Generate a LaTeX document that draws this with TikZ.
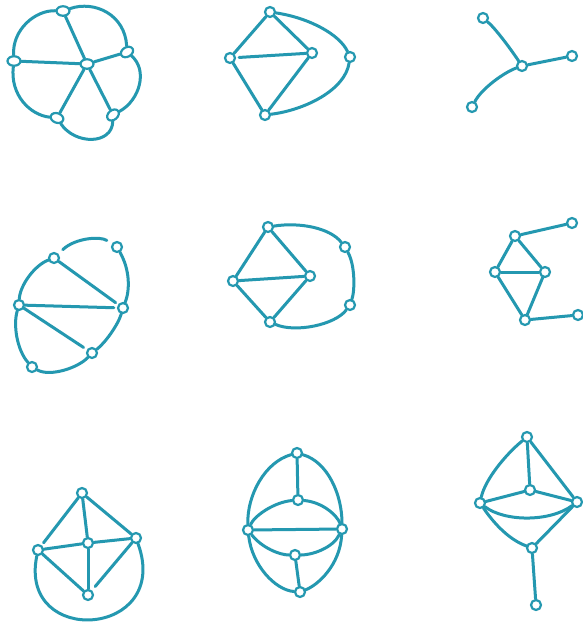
\documentclass[tikz,border=0pt]{standalone}
\usetikzlibrary{shapes.geometric}
\definecolor{ink}{RGB}{36,152,176}
\begin{document}
\begin{tikzpicture}[x=1pt,y=-1pt,
  vtx/.style={circle,draw=ink,fill=white,line width=2.2pt,inner sep=0pt,minimum size=10pt},
  ovtx/.style={ellipse,draw=ink,fill=white,line width=2.2pt,inner sep=0pt,minimum width=13pt,minimum height=9.5pt},
  edge/.style={draw=ink,line width=3pt,line cap=round}]
\useasboundingbox[fill=white] (0,0) rectangle (582,627);
% ---------- graph 1 ----------
\node[ovtx] (A1) at (63,11) {};
\node[ovtx,rotate=30] (B1) at (127,52) {};
\node[ovtx] (C1) at (14,61) {};
\node[ovtx] (O1) at (87,64) {};
\node[ovtx,rotate=-20] (D1) at (57,118) {};
\node[ovtx,rotate=40] (E1) at (113,115) {};
\path[edge] (A1) .. controls (95,0) and (125,15) .. (B1);
\path[edge] (B1) .. controls (148,70) and (140,100) .. (E1);
\path[edge] (E1) .. controls (112,145) and (75,145) .. (D1);
\path[edge] (D1) .. controls (30,115) and (10,95) .. (C1);
\path[edge] (C1) .. controls (12,30) and (35,10) .. (A1);
\path[edge] (O1) -- (A1); \path[edge] (O1) -- (B1); \path[edge] (O1) -- (C1);
\path[edge] (O1) -- (D1); \path[edge] (O1) -- (E1);
% ---------- graph 2 ----------
\node[vtx] (A2) at (270,12) {};
\node[vtx] (B2) at (230,58) {};
\node[vtx] (C2) at (312,53) {};
\node[vtx] (D2) at (350,57) {};
\node[vtx] (E2) at (265,115) {};
\path[edge] (A2) -- (B2); \path[edge] (A2) -- (C2); \path[edge,shorten <=3pt] (B2) -- (C2);
\path[edge] (B2) -- (E2); \path[edge] (C2) -- (E2);
\path[edge] (A2) .. controls (310,18) and (340,35) .. (D2);
\path[edge] (D2) .. controls (345,90) and (305,110) .. (E2);
% ---------- graph 3 ----------
\node[vtx] (A3) at (483,18) {};
\node[vtx] (O3) at (522,66) {};
\node[vtx] (B3) at (572,56) {};
\node[vtx] (C3) at (472,107) {};
\path[edge] (A3) .. controls (495,28) and (510,48) .. (O3); \path[edge] (O3) -- (B3);
\path[edge] (O3) .. controls (505,72) and (482,88) .. (C3);
% ---------- graph 4 ----------
\node[vtx] (A4) at (117,247) {};
\node[vtx] (B4) at (54,258) {};
\node[vtx] (C4) at (19,305) {};
\node[vtx] (D4) at (123,308) {};
\node[vtx] (E4) at (92,353) {};
\node[vtx] (F4) at (32,367) {};
\path[edge,shorten <=6pt,shorten >=6pt] (B4) .. controls (75,238) and (100,236) .. (A4);
\path[edge] (A4) .. controls (130,270) and (130,290) .. (D4);
\path[edge,shorten >=3pt] (B4) -- (D4);
\path[edge,shorten >=3pt] (C4) -- (D4);
\path[edge,shorten >=4pt] (C4) -- (E4);
\path[edge] (D4) .. controls (118,325) and (105,343) .. (E4);
\path[edge] (E4) .. controls (78,368) and (50,377) .. (F4);
\path[edge] (F4) .. controls (17,350) and (13,325) .. (C4);
\path[edge] (C4) .. controls (20,285) and (35,265) .. (B4);
% ---------- graph 5 ----------
\node[vtx] (A5) at (268,227) {};
\node[vtx] (B5) at (233,281) {};
\node[vtx] (C5) at (310,276) {};
\node[vtx] (D5) at (345,247) {};
\node[vtx] (E5) at (350,305) {};
\node[vtx] (F5) at (270,322) {};
\path[edge] (A5) -- (B5); \path[edge] (A5) -- (C5); \path[edge] (B5) -- (C5);
\path[edge] (B5) -- (F5); \path[edge] (C5) -- (F5);
\path[edge] (A5) .. controls (300,222) and (330,228) .. (D5);
\path[edge] (D5) .. controls (355,265) and (355,290) .. (E5);
\path[edge] (E5) .. controls (335,325) and (295,333) .. (F5);
% ---------- graph 6 ----------
\node[vtx] (A6) at (572,223) {};
\node[vtx] (B6) at (515,236) {};
\node[vtx] (C6) at (495,272) {};
\node[vtx] (D6) at (545,272) {};
\node[vtx] (E6) at (525,320) {};
\node[vtx] (F6) at (578,315) {};
\path[edge] (B6) -- (A6); \path[edge] (B6) -- (C6); \path[edge] (B6) -- (D6);
\path[edge] (C6) -- (D6); \path[edge] (C6) -- (E6); \path[edge] (D6) -- (E6);
\path[edge] (E6) -- (F6);
% ---------- graph 7 ----------
\node[vtx] (A7) at (82,493) {};
\node[vtx] (B7) at (38,550) {};
\node[vtx] (O7) at (88,543) {};
\node[vtx] (C7) at (136,538) {};
\node[vtx] (D7) at (88,595) {};
\path[edge,shorten >=3pt] (A7) -- (B7); \path[edge] (A7) -- (C7); \path[edge] (A7) -- (O7);
\path[edge] (B7) -- (O7); \path[edge] (O7) -- (C7); \path[edge] (O7) -- (D7);
\path[edge] (B7) -- (D7); \path[edge,shorten >=5pt] (C7) -- (D7);
\path[edge] (B7) .. controls (18,648) and (172,638) .. (C7);
% ---------- graph 8 ----------
\node[vtx] (A8) at (297,453) {};
\node[vtx] (O8) at (298,500) {};
\node[vtx] (B8) at (248,530) {};
\node[vtx] (C8) at (342,529) {};
\node[vtx] (M8) at (295,555) {};
\node[vtx] (D8) at (300,592) {};
\path[edge] (A8) -- (O8);
\path[edge] (A8) .. controls (265,462) and (247,495) .. (B8);
\path[edge] (A8) .. controls (328,462) and (342,495) .. (C8);
\path[edge] (O8) .. controls (275,502) and (255,515) .. (B8);
\path[edge] (O8) .. controls (322,502) and (337,515) .. (C8);
\path[edge] (B8) -- (C8);
\path[edge] (B8) .. controls (262,548) and (280,555) .. (M8);
\path[edge] (C8) .. controls (333,548) and (312,555) .. (M8);
\path[edge] (M8) -- (D8);
\path[edge] (B8) .. controls (252,565) and (275,590) .. (D8);
\path[edge] (C8) .. controls (340,565) and (318,585) .. (D8);
% ---------- graph 9 ----------
\node[vtx] (A9) at (527,437) {};
\node[vtx] (O9) at (530,490) {};
\node[vtx] (B9) at (480,503) {};
\node[vtx] (C9) at (577,502) {};
\node[vtx] (L9) at (532,548) {};
\node[vtx] (D9) at (536,605) {};
\path[edge] (A9) -- (O9);
\path[edge] (A9) .. controls (505,455) and (485,480) .. (B9);
\path[edge] (A9) -- (C9);
\path[edge] (O9) -- (B9); \path[edge] (O9) -- (C9);
\path[edge] (B9) .. controls (505,522) and (550,522) .. (C9);
\path[edge] (B9) .. controls (495,525) and (510,540) .. (L9);
\path[edge] (C9) -- (L9);
\path[edge] (L9) -- (D9);
\end{tikzpicture}
\end{document}
